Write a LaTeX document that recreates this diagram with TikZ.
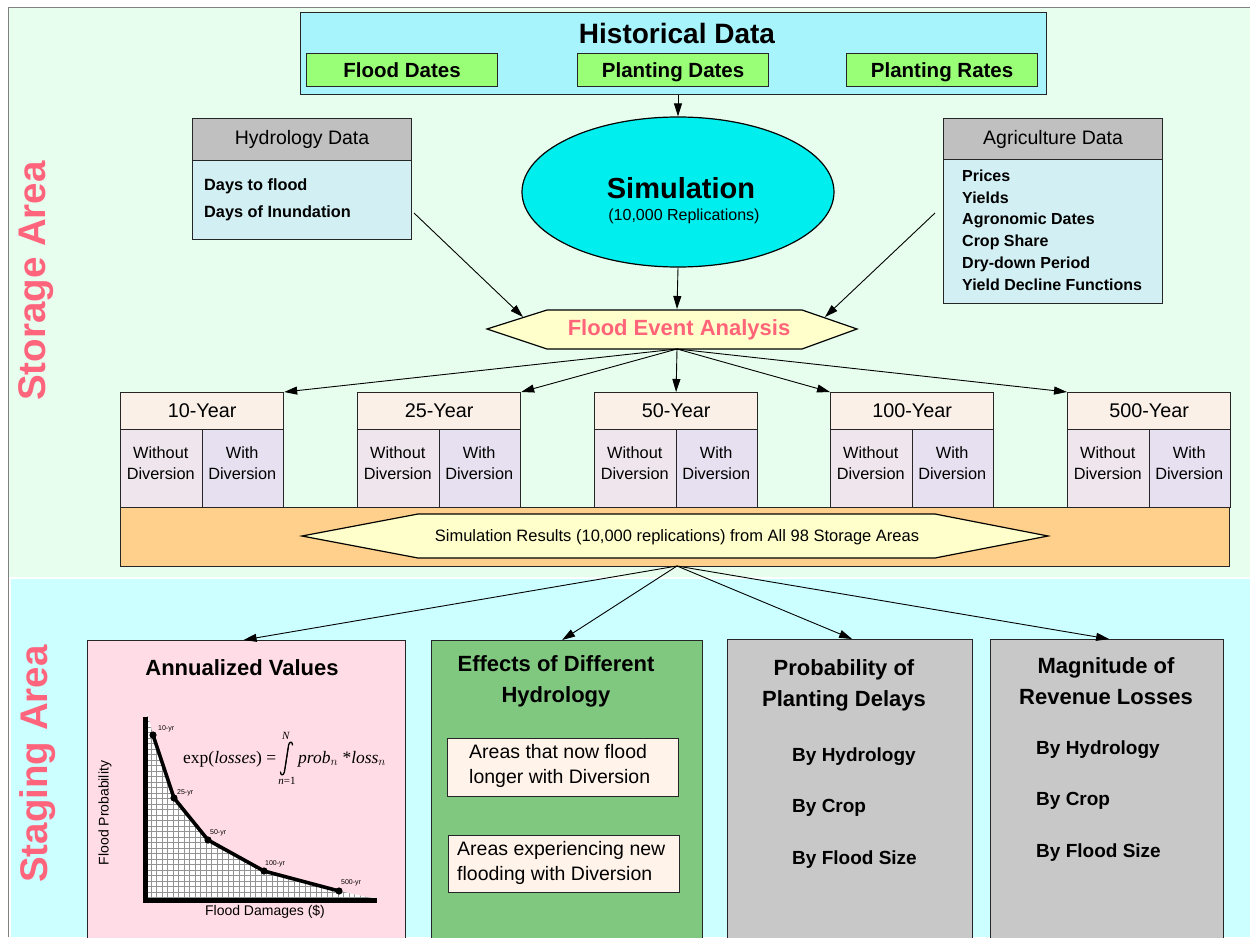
\documentclass[tikz,border=0pt]{standalone}
\usepackage{fontspec}
\setmainfont{Liberation Sans}
\newfontfamily\tnr{Liberation Serif}
\usetikzlibrary{arrows.meta,shapes.geometric}
\definecolor{storagebg}{RGB}{231,254,238}
\definecolor{stagingbg}{RGB}{204,255,255}
\definecolor{histcyan}{RGB}{168,244,252}
\definecolor{subgreen}{RGB}{153,255,119}
\definecolor{hdrgray}{RGB}{192,192,192}
\definecolor{bodyblue}{RGB}{210,240,244}
\definecolor{simcyan}{RGB}{0,238,238}
\definecolor{hexyellow}{RGB}{255,255,204}
\definecolor{feared}{RGB}{255,100,120}
\definecolor{yrhead}{RGB}{250,240,232}
\definecolor{yrwo}{RGB}{238,230,236}
\definecolor{yrwi}{RGB}{230,224,240}
\definecolor{bandorange}{RGB}{255,208,140}
\definecolor{annpink}{RGB}{255,220,230}
\definecolor{effgreen}{RGB}{128,200,128}
\definecolor{areabox}{RGB}{255,243,234}
\definecolor{boxgray}{RGB}{200,200,200}
\definecolor{labelpink}{RGB}{255,100,125}
\newcommand\fsz[2]{\fontsize{#1}{#2}\selectfont}
\begin{document}
\begin{tikzpicture}[x=1pt,y=-1pt,
  arr/.style={-{Triangle[length=13pt,width=8pt]}, line width=0.9pt},
  box/.style={draw=black!85, line width=1.2pt, inner sep=0pt, anchor=north west},
  sidelabel/.style={rotate=90, text=labelpink, font=\fsz{38.5}{44}\bfseries},
  subbox/.style={box, fill=subgreen, minimum width=191pt, minimum height=33pt, text height=15pt, text depth=0pt, font=\fsz{20.5}{24}\bfseries},
  hdr/.style={box, fill=hdrgray, minimum width=219pt, font=\fsz{19.5}{23}},
  yrhdr/.style={box, fill=yrhead, minimum width=163pt, minimum height=37pt, font=\fsz{19.8}{23}},
  yrcell/.style={box, minimum width=81.5pt, minimum height=78pt},
  yrtext/.style={align=center, inner sep=0pt, font=\fsz{16.3}{21}},
  bigbox/.style={box, minimum height=300pt},
  title/.style={align=center, font=\fsz{22}{31}\bfseries},
  items/.style={anchor=west, align=left, inner sep=0pt, font=\fsz{19}{51.5}\bfseries},
  areatext/.style={anchor=west, align=left, inner sep=0pt, font=\fsz{19.5}{24.5}},
  ptlabel/.style={anchor=west, font=\fsz{7}{8}, inner sep=1pt},
  limit/.style={inner sep=0pt, font=\tnr\fsz{11}{12}},
  gridline/.style={draw=gray!85, line width=0.6pt}]
\useasboundingbox (0,0) rectangle (1250,937);
\clip (0,0) rectangle (1250,937);
% backgrounds
\fill[white] (0,0) rectangle (1250,937);
\fill[storagebg] (9,8) rectangle (1250,577);
\fill[stagingbg] (11,579) rectangle (1250,937);
\draw[gray, line width=1pt] (8,937) -- (8,7) -- (1250,7);
\node[sidelabel] (storlab) at (36,281) {Storage Area};
\node[sidelabel] (staglab) at (38,764) {Staging Area};
% historical data
\node[box, fill=histcyan, minimum width=746pt, minimum height=82pt] (hist) at (300,12) {};
\node[font=\fsz{28}{32}\bfseries] (histt) at (677,33) {Historical Data};
\node[subbox] (fdates) at (306,53) {Flood Dates};
\node[subbox] (pdates) at (577,53) {Planting Dates};
\node[subbox] (prates) at (846,53) {Planting Rates};
% hydrology data
\node[hdr, minimum height=42pt] (hydh) at (192,118) {Hydrology Data};
\node[box, fill=bodyblue, minimum width=219pt, minimum height=79pt] (hydb) at (192,160) {};
\node[anchor=west, align=left, inner sep=0pt, font=\fsz{16.3}{27}\bfseries] (hydt) at (204,200) {Days to flood\\Days of Inundation};
% agriculture data
\node[hdr, minimum height=41pt] (agrh) at (943,118) {Agriculture Data};
\node[box, fill=bodyblue, minimum width=219pt, minimum height=144pt] (agrb) at (943,159) {};
\node[anchor=west, align=left, inner sep=0pt, font=\fsz{16}{21.8}\bfseries] (agrt) at (962,230) {Prices\\Yields\\Agronomic Dates\\Crop Share\\Dry-down Period\\Yield Decline Functions};
% simulation
\node[ellipse, draw=black, line width=1.2pt, fill=simcyan, minimum width=312pt, minimum height=150pt, inner sep=0pt] (sim) at (678,192) {};
\node[font=\fsz{29}{33}\bfseries] (simt) at (681,188) {Simulation};
\node[font=\fsz{16}{19}] (simst) at (684,216) {(10,000 Replications)};
% flood event analysis
\draw[line width=1.2pt, fill=hexyellow] (487,329) -- (547,310) -- (802,310) -- (857,329) -- (802,349) -- (547,349) -- cycle;
\node[font=\fsz{22}{26}\bfseries, text=feared] (fea) at (679,330) {Flood Event Analysis};
\coordinate (feaN) at (677,309);
\coordinate (feaS) at (677,349);
\coordinate (feaL) at (523,317);
\coordinate (feaR) at (825,317);
\coordinate (hydA) at (414,213);
\coordinate (agrA) at (935,213);
% years
\node[box, fill=bandorange, minimum width=1109pt, minimum height=59pt] (band) at (120,507) {};
\foreach \x/\lab/\nm in {120/10-Year/y10, 357/25-Year/y25, 594/50-Year/y50, 830/100-Year/y100, 1067/500-Year/y500}{
  \node[yrhdr] (\nm) at (\x,392) {\lab};
  \node[yrcell, fill=yrwo] (\nm wo) at (\x,429) {};
  \node[yrcell, fill=yrwi] (\nm wi) at ({\x+81.5},429) {};
  \node[yrtext] (\nm wot) at ({\x+40.75},463.5) {Without\\Diversion};
  \node[yrtext] (\nm wit) at ({\x+122.25},463.5) {With\\Diversion};
}
\draw[line width=1.2pt, fill=hexyellow] (302,536) -- (418,514) -- (935,514) -- (1048,536) -- (935,558) -- (418,558) -- cycle;
\node[font=\fsz{16.5}{19}] (res) at (677,537) {Simulation Results (10,000 replications) from All 98 Storage Areas};
\coordinate (bandS) at (677,566);
% bottom boxes
\node[bigbox, fill=annpink, minimum width=318pt] (ann) at (87,640) {};
\node[bigbox, fill=effgreen, minimum width=271pt] (eff) at (431,640) {};
\node[bigbox, fill=boxgray, minimum width=245pt] (prob) at (727,639) {};
\node[bigbox, fill=boxgray, minimum width=233pt] (mag) at (990,639) {};
\node[title] (annt) at (242,668) {Annualized Values};
\node[title] (efft) at (556,681) {Effects of Different\\Hydrology};
\node[title] (probt) at (844,685) {Probability of\\Planting Delays};
\node[title] (magt) at (1106,681.5) {Magnitude of\\Revenue Losses};
\node[box, fill=areabox, minimum width=231pt, minimum height=58pt] (area1) at (447,738) {};
\node[areatext] (area1t) at (469,766) {Areas that now flood\\longer with Diversion};
\node[box, fill=areabox, minimum width=231pt, minimum height=57pt] (area2) at (448,835) {};
\node[areatext] (area2t) at (457,863) {Areas experiencing new\\flooding with Diversion};
\node[items] (probi) at (792,808) {By Hydrology\\By Crop\\By Flood Size};
\node[items] (magi) at (1036,801) {By Hydrology\\By Crop\\By Flood Size};
% chart
\begin{scope}
\clip (147,712) -- (153,735) -- (174,798) -- (208,840) -- (264,871) -- (339,891) -- (372,898) -- (147,898) -- cycle;
\fill[white] (140,705) rectangle (380,900);
\foreach \gx in {140,145.5,...,380}{\path[gridline] (\gx,705) -- (\gx,900);}
\foreach \gy in {705,710.5,...,900}{\path[gridline] (140,\gy) -- (380,\gy);}
\end{scope}
\draw[line width=3.6pt, line join=round] (153,735) -- (174,798) -- (208,840) -- (264,871) -- (339,891);
\foreach \p in {(153,735),(174,798),(208,840),(264,871),(339,891)}{\fill \p circle (3.6);}
\draw[line width=5pt] (145,717) -- (145,900) -- (377,900);
\node[ptlabel] (l10) at (157,729) {10-yr};
\node[ptlabel] (l25) at (176,793) {25-yr};
\node[ptlabel] (l50) at (209,833) {50-yr};
\node[ptlabel] (l100) at (264,864) {100-yr};
\node[ptlabel] (l500) at (340,883) {500-yr};
\node[anchor=west, inner sep=0pt, font=\tnr\fsz{17.5}{20}] (fexp) at (183,759) {exp(\textit{losses}) =};
% integral sign drawn as a path
\draw[line width=1.3pt, line cap=round] (292.5,745) .. controls (292.5,741.5) and (289.5,741) .. (288.6,745) -- (284.4,772) .. controls (283.5,776) and (280.5,775.5) .. (280.5,772);
\draw[line width=0.8pt] (288.2,748) -- (285,769);
\node[limit] (fN) at (286,736) {\textit{N}};
\node[limit] (fn1) at (287,781) {\textit{n}=1};
\node[anchor=west, inner sep=0pt, font=\tnr\fsz{17.5}{20}] (fprob) at (298,759) {\textit{prob}$_n$ *\textit{loss}$_n$};
\node[rotate=90, font=\fsz{14}{16}] (fp) at (105,813) {Flood Probability};
\node[font=\fsz{14}{16}] (fd) at (265,912) {Flood Damages (\$)};
% connectors
\draw[arr] (sim.north |- hist.south) -- (sim.north);
\draw[arr] (sim.south) -- (feaN);
\draw[arr] (hydA) -- (feaL);
\draw[arr] (agrA) -- (feaR);
\draw[arr] (feaS) -- (y10.north east);
\draw[arr] (feaS) -- (y25.north east);
\draw[arr] (feaS) -- (y50.north);
\draw[arr] (feaS) -- (y100.north west);
\draw[arr] (feaS) -- (y500.north west);
\draw[arr] (bandS) -- ([xshift=-3pt]ann.north);
\draw[arr] (bandS) -- ([xshift=-5pt]eff.north);
\draw[arr] (bandS) -- ([xshift=2pt]prob.north);
\draw[arr] (bandS) -- ([xshift=2pt]mag.north);
\end{tikzpicture}
\end{document}
